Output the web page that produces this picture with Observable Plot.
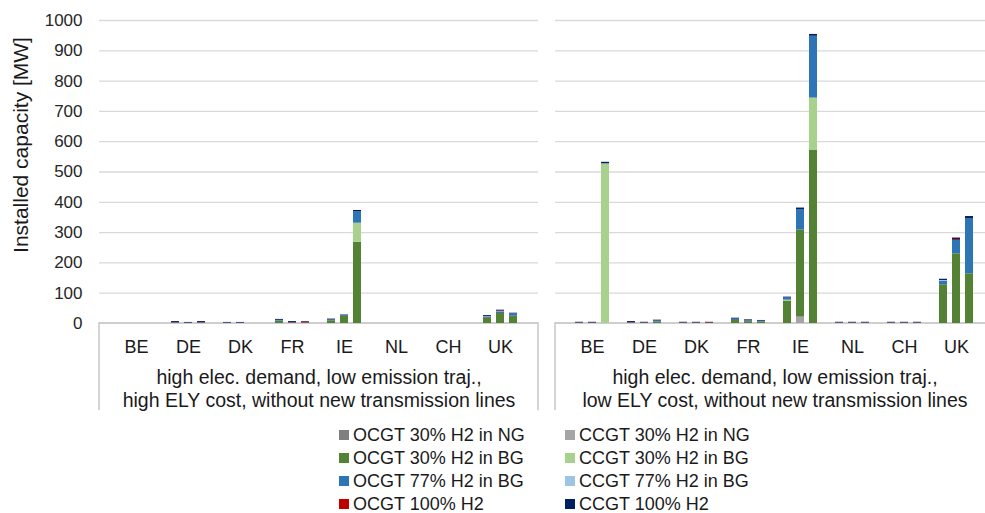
<!DOCTYPE html>
<html>
<head>
<meta charset="utf-8">
<script src="https://cdn.jsdelivr.net/npm/d3@7"></script>
<script src="https://cdn.jsdelivr.net/npm/@observablehq/plot@0.6"></script>
<style>
  html, body { margin: 0; padding: 0; background: #fff; overflow: hidden; }
  #chart { width: 985px; height: 415px; }
  #legend {
    display: grid;
    grid-template-columns: 226px 226px;
    grid-auto-rows: 23px;
    margin-left: 339px;
    padding-top: 8px;
    font-family: "Liberation Sans", Arial, sans-serif;
    font-size: 18px;
    line-height: 18px;
    color: #1a1a1a;
  }
  .item { display: flex; align-items: center; white-space: nowrap; line-height: 18px; }
  .sw { width: 10px; height: 10px; margin-right: 4px; flex: none; }
</style>
</head>
<body>
<div id="chart"></div>
<div id="legend"></div>
<script>
// ---- data ----
const countries = ["BE", "DE", "DK", "FR", "IE", "NL", "CH", "UK"];
const barsPerCountry = ["1", "2", "3"]; // three unlabelled bars per country
const scenarios = ["highELY", "lowELY"];
const scenarioLabels = [
  "high elec. demand, low emission traj.,\nhigh ELY cost, without new transmission lines",
  "high elec. demand, low emission traj.,\nlow ELY cost, without new transmission lines"
];
const seriesNames = [
  "OCGT 30% H2 in NG", "CCGT 30% H2 in NG",
  "OCGT 30% H2 in BG", "CCGT 30% H2 in BG",
  "OCGT 77% H2 in BG", "CCGT 77% H2 in BG",
  "OCGT 100% H2", "CCGT 100% H2"
];
const seriesColors = [
  "#7f7f7f", "#a5a5a5",
  "#548235", "#a9d18e",
  "#2e75b6", "#9dc3e6",
  "#c00000", "#002060"
];
const yTicks = [0, 100, 200, 300, 400, 500, 600, 700, 800, 900, 1000];
const yLabel = "Installed capacity [MW]";

// values: one row per series, 24 values = 8 countries x 3 bars
//                 BE        DE          DK          FR          IE            NL      CH      UK
const highELY = [
  [0,0,0,     0,0,0,      0,0,0,      0,0,0,      0,0,0,        0,0,0,  0,0,0,  0,0,0],
  [0,0,0,     0,0,0,      0,0,0,      0,0,0,      0,0,0,        0,0,0,  0,0,0,  0,0,0],
  [0,0,0,     0,0,0,      0,0,0,      8,0,0,      9,24,268,     0,0,0,  0,0,0,  17,33,24],
  [0,0,0,     0,0,0,      0,0,0,      0,0,0,      0,0,63,       0,0,0,  0,0,0,  0,0,0],
  [0,0,0,     2,1,2,      1,1,0,      2,2,1.5,    2,1,37,       0,0,0,  0,0,0,  3,5,6],
  [0,0,0,     0,0,0,      0,0,0,      0,0,0,      0,0,0,        0,0,0,  0,0,0,  2,1,1],
  [0,0,0,     1.5,0.5,1.5,0.5,0.5,0,  0.5,1.5,3,  0.5,0,0,      0,0,0,  0,0,0,  1,2,0],
  [0,0,0,     3,2,3,      2,2,0,      3,3,2,      3,3,5,        0,0,0,  0,0,0,  3,3,3]
];
const lowELY = [
  [0,0,0,     0,0,0,      0,0,0,      0,0,0,      0,0,0,        0,0,0,  0,0,0,  0,0,0],
  [0,0,0,     0,0,0,      0,0,0,      0,0,0,      0,21,0,       0,0,0,  0,0,0,  0,0,0],
  [0,0,0,     0,0,5,      0,0,0,      10,6,5,     74,288,571,   0,0,0,  0,0,0,  128,230,164],
  [0,0,527,   0,0,0,      0,0,0,      0,0,0,      3,0,173,      0,0,0,  0,0,0,  0,0,0],
  [1,1,0,     2,1,3,      1,1,0.5,    4,3,2.5,    7,67,204,     1,1,1,  1,1,1,  12,44,181],
  [0,0,0,     0,0,0,      0,0,0,      0,0,0,      0,0,0,        0,0,0,  0,0,0,  2,0,0],
  [1,1,0,     1.5,1,0,    1,1,2,      0.5,0.5,0,  0,0,0,        1,1,1,  1,1,1,  0,3,0],
  [2,2,5,     3,2,3,      2,2,1.5,    3,2.5,2.5,  3,5,6,        2,2,2,  2,2,2,  4,5,8]
];
const scenarioValues = [highELY, lowELY];

// ---- build table ----
const rows = [];
scenarios.forEach((s, si) => {
  seriesNames.forEach((name, k) => {
    countries.forEach((c, ci) => {
      barsPerCountry.forEach((b, bi) => {
        rows.push({scenario: s, series: name, key: c + "|" + b, value: scenarioValues[si][k][ci * 3 + bi]});
      });
    });
  });
});
const xKeys = [];
countries.forEach((c, i) => {
  barsPerCountry.forEach(b => xKeys.push(c + "|" + b));
  if (i < countries.length - 1) xKeys.push("gap" + i);
});
const boxDepth = -287; // category-box depth below zero, in MW units

const chart = Plot.plot({
  width: 985,
  height: 415,
  marginTop: 20,
  marginBottom: 92,
  marginLeft: 99,
  marginRight: -9,
  style: {fontFamily: "'Liberation Sans', Arial, sans-serif", fontSize: "17px", color: "#262626", background: "white", overflow: "visible"},
  fx: {domain: scenarios, paddingInner: 17 / 456, paddingOuter: 0, axis: null, label: null},
  x: {domain: xKeys, paddingInner: 0.36, paddingOuter: 1.25, align: 0.5, axis: null},
  y: {domain: [0, 1000], ticks: yTicks, tickFormat: d => String(d), tickSize: 0, tickPadding: 17, label: null},
  color: {domain: seriesNames, range: seriesColors},
  marks: [
    Plot.ruleY(yTicks.filter(t => t > 0), {stroke: "#d9d9d9", strokeWidth: 1.3}),
    Plot.rect([0], {y1: 0, y2: boxDepth, fill: "none", stroke: "#bfbfbf", strokeWidth: 1.3, strokeDasharray: "526,439,87"}),
    Plot.barY(rows, {fx: "scenario", x: "key", y: "value", fill: "series", order: seriesNames}),
    Plot.text(countries, {x: c => c + "|2", text: c => c, frameAnchor: "bottom", dy: 24, lineAnchor: "middle", fontSize: 18, fill: "#1a1a1a"}),
    Plot.text(scenarios, {fx: d => d, text: (d, i) => scenarioLabels[i], frameAnchor: "bottom", dy: 65, lineAnchor: "middle", lineHeight: 1.15, fontSize: 19.5, fill: "#1a1a1a"}),
    Plot.text([yLabel], {fx: () => scenarios[0], text: d => d, frameAnchor: "left", dx: -78, dy: -27, rotate: -90, textAnchor: "middle", lineAnchor: "middle", fontSize: 21, fill: "#1a1a1a"})
  ]
});
document.getElementById("chart").appendChild(chart);

// ---- legend (row-wise, two columns) ----
const legend = document.getElementById("legend");
seriesNames.forEach((name, i) => {
  const item = document.createElement("div");
  item.className = "item";
  const sw = document.createElement("span");
  sw.className = "sw";
  sw.style.background = seriesColors[i];
  item.appendChild(sw);
  item.appendChild(document.createTextNode(name));
  legend.appendChild(item);
});
</script>
</body>
</html>
